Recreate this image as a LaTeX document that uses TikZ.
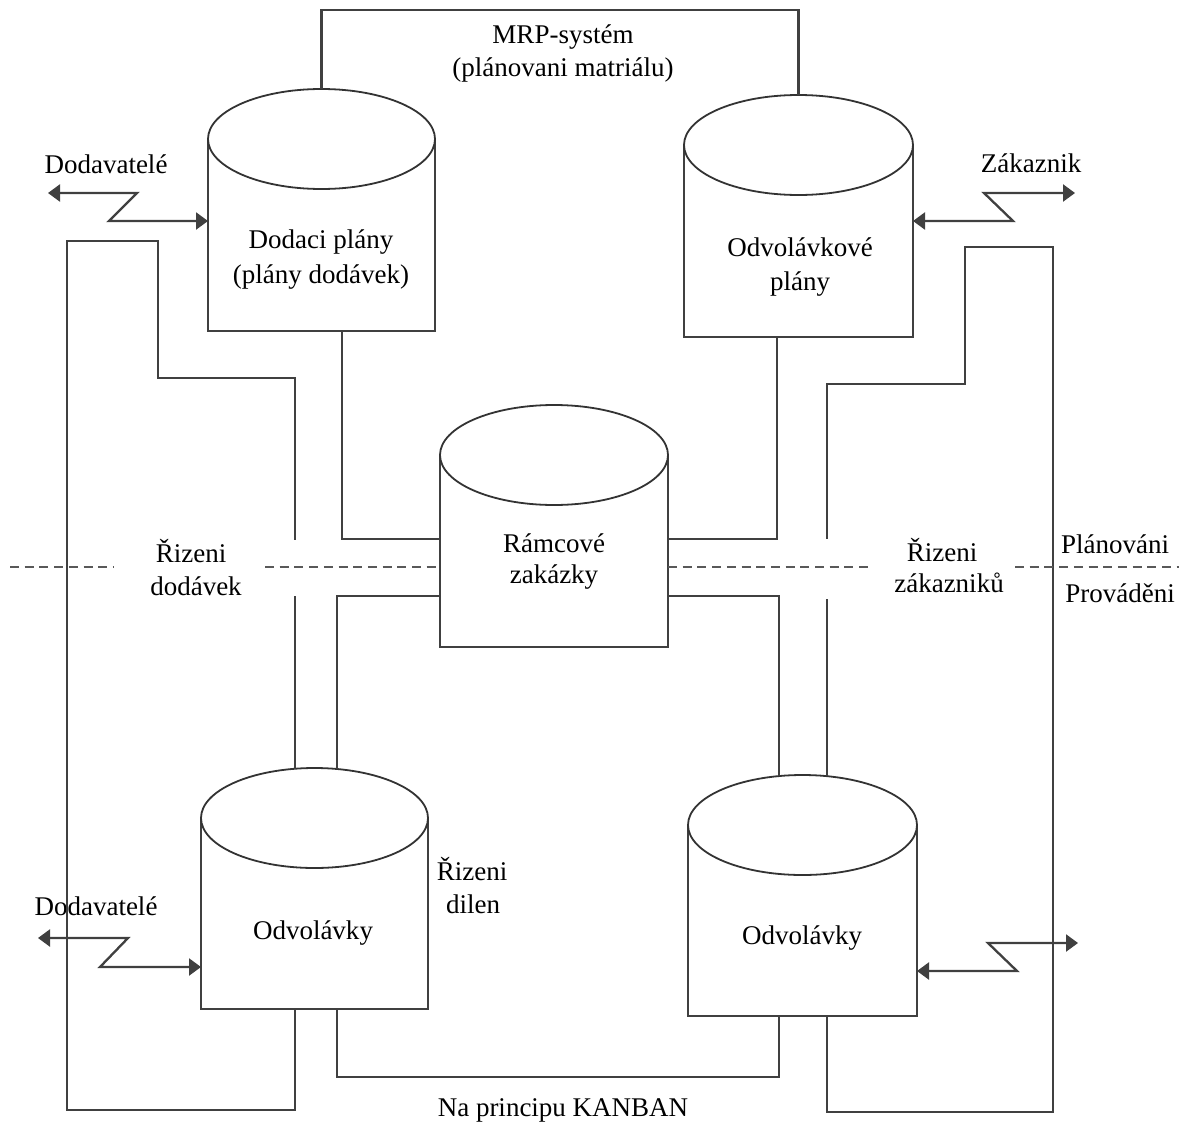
\documentclass[tikz,border=0pt]{standalone}
\usepackage{fontspec}
\setmainfont{Liberation Serif}
\usetikzlibrary{arrows.meta}
\newcommand{\mycyl}[5]{% name, xl, xr, ytop, ybot
  \pgfmathsetmacro\cx{(#2+#3)/2}
  \pgfmathsetmacro\crx{(#3-#2)/2}
  \pgfmathsetmacro\ccy{#4+50}
  \pgfmathsetmacro\cmy{(#4+#5)/2}
  \pgfmathsetmacro\cw{#3-#2}
  \pgfmathsetmacro\ch{#5-#4}
  \node[minimum width=\cw pt, minimum height=\ch pt, inner sep=0pt, outer sep=0pt] (#1) at (\cx,\cmy) {};
  \draw[cylline] (#2,\ccy) -- (#2,#5) -- (#3,#5) -- (#3,\ccy);
  \draw[cyltop] (\cx,\ccy) ellipse [x radius=\crx, y radius=50];
}
\begin{document}
\begin{tikzpicture}[x=1pt,y=-1pt,
  conn/.style={line width=2.3pt, draw=black!75, line join=miter},
  cylline/.style={line width=2.3pt, draw=black!75},
  cyltop/.style={line width=1.8pt, draw=black!80},
  txt/.style={font=\fontsize{27}{32}\selectfont, text=black, inner sep=0pt, anchor=base},
  dsh/.style={line width=1.4pt, draw=black!65, dash pattern=on 9pt off 5.7pt},
  dtip/.style={{Triangle[length=12pt,width=17pt]}-{Triangle[length=12pt,width=17pt]}}
]
\fill[white] (0,0) rectangle (1185,1124);
\useasboundingbox (0,0) rectangle (1185,1124);

% cylinders
\mycyl{A}{208}{435}{89}{331}
\mycyl{D}{684}{913}{95}{337}
\mycyl{B}{440}{668}{405}{647}
\mycyl{C}{201}{428}{768}{1009}
\mycyl{E}{688}{917}{775}{1016}

% texts in cylinders
\node[txt] (tA1) at (321,248) {Dodaci plány};
\node[txt] (tA2) at (321,283) {(plány dodávek)};
\node[txt] (tD1) at (800,256) {Odvolávkové};
\node[txt] (tD2) at (800,290) {plány};
\node[txt] (tB1) at (554,552) {Rámcové};
\node[txt] (tB2) at (554,583) {zakázky};
\node[txt] (tC) at (313,939) {Odvolávky};
\node[txt] (tE) at (802,944) {Odvolávky};

% other labels
\node[txt] (mrp1) at (563,44) {MRP-systém};
\node[txt] (mrp2) at (563,77) {(plánovani matriálu)};
\node[txt] (dod1) at (106,173) {Dodavatelé};
\node[txt] (zak) at (1031,172) {Zákaznik};
\node[txt] (rd1) at (191,562) {Řizeni};
\node[txt] (rd2) at (196,595) {dodávek};
\node[txt] (rz1) at (942,561) {Řizeni};
\node[txt] (rz2) at (949,592) {zákazniků};
\node[txt] (pl) at (1115,553) {Plánováni};
\node[txt] (pr) at (1120,602) {Prováděni};
\node[txt] (dod2) at (96,915) {Dodavatelé};
\node[txt] (rdl1) at (472,880) {Řizeni};
\node[txt] (rdl2) at (473,913) {dilen};
\node[txt] (kan) at (563,1116) {Na principu KANBAN};

% MRP connection
\coordinate (mrptop) at (0,10);
\draw[conn] (A.north) |- (mrptop -| D.north) -- (D.north);

% A -> B, D -> B
\draw[conn] (A.south -| 342,0) |- (B.west |- 0,539);
\draw[conn] (D.south -| 777,0) |- (B.east |- 0,539);
% B -> C, B -> E
\draw[conn] (B.west |- 0,596) -| (337,769);
\draw[conn] (B.east |- 0,596) -| (779,776);
% KANBAN link E -> C
\draw[conn] (E.south -| 779,0) -- (779,1077) -- (337,1077) -- (C.south -| 337,0);

% left loop
\draw[conn] (C.south -| 295,0) -- (295,1110) -- (67,1110) -- (67,241) -- (158,241) -- (158,378) -- (295,378) -- (295,540);
\draw[conn] (295,596) -- (295,769);
% right loop
\draw[conn] (E.south -| 827,0) -- (827,1112) -- (1053,1112) -- (1053,247) -- (965,247) -- (965,384) -- (827,384) -- (827,539);
\draw[conn] (827,599) -- (827,776);

% dashed boundary
\draw[dsh] (10,567) -- (113,567);
\draw[dsh] (265,567) -- (B.west |- 0,567);
\draw[dsh] (B.east |- 0,567) -- (869,567);
\draw[dsh] (1015,567) -- (1179,567);

% lightning arrows
\coordinate (f1) at (48,193);
\coordinate (f2) at (1075,193);
\coordinate (f3) at (38,938);
\coordinate (f4) at (1078,943);
\draw[conn, dtip] (f1) -- (137,193) -- (109,221) -- (A.west |- 0,221);
\draw[conn, dtip] (f2) -- (984,193) -- (1013,221) -- (D.east |- 0,221);
\draw[conn, dtip] (f3) -- (128,938) -- (100,967) -- (C.west |- 0,967);
\draw[conn, dtip] (f4) -- (988,943) -- (1017,971) -- (E.east |- 0,971);
\end{tikzpicture}
\end{document}
